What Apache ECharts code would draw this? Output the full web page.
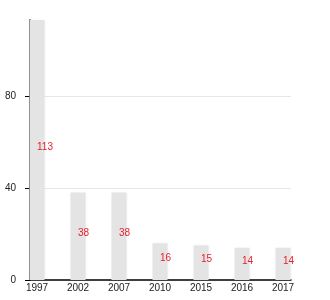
<!DOCTYPE html>
<html><head><meta charset="utf-8">
<script src="https://cdn.jsdelivr.net/npm/echarts@6/dist/echarts.min.js"></script>
<style>html,body{margin:0;padding:0;background:#fff}#c{width:330px;height:300px}</style>
</head><body><div id="c"></div>
<script>
const categories = ['1997','2002','2007','2010','2015','2016','2017'];
const values = [113, 38, 38, 16, 15, 14, 14];
const yTicks = [0, 40, 80];

const chart = echarts.init(document.getElementById('c'), null, {renderer:'canvas'});
const font = 'Liberation Sans, Arial, sans-serif';
chart.setOption({
  animation: false,
  grid: [
    {left: 30, right: 39, top: 20, bottom: 20},
    {left: 37, right: 47, top: 20, bottom: 20}
  ],
  xAxis: [
    {type:'category', gridIndex:0, data: categories, boundaryGap:false,
     axisLine:{lineStyle:{color:'#000', width:1.5}}, axisTick:{show:false}, axisLabel:{show:false}, splitLine:{show:false}},
    {type:'category', gridIndex:1, data: categories, boundaryGap:false,
     axisLine:{show:false}, axisTick:{show:false},
     axisLabel:{color:'#222', fontSize:10, fontFamily:font, margin:3}}
  ],
  yAxis: [
    {type:'value', gridIndex:0, min:0, max:113, interval:40,
     axisLine:{show:true, lineStyle:{color:'#000', width:1.5}},
     axisTick:{show:true, length:5, lineStyle:{color:'#000'}, customValues: yTicks},
     axisLabel:{color:'#222', fontSize:10, fontFamily:font, margin:14, customValues: yTicks},
     splitLine:{show:true, showMinLine:false, showMaxLine:true, lineStyle:{color:'#e6e6e6', width:1}}},
    {type:'value', gridIndex:1, min:0, max:113, show:false, splitLine:{show:false}}
  ],
  series: [{
    type:'bar', xAxisIndex:1, yAxisIndex:1, data: values, barWidth:15,
    itemStyle:{color:'#e4e4e4', shadowBlur:2, shadowColor:'rgba(0,0,0,0.06)'},
    label:{show:true, position:['50%','50%'], align:'left', verticalAlign:'middle', offset:[0,-3],
      color:'#e8202a', fontSize:10, fontFamily:font}
  }]
});
</script></body></html>
